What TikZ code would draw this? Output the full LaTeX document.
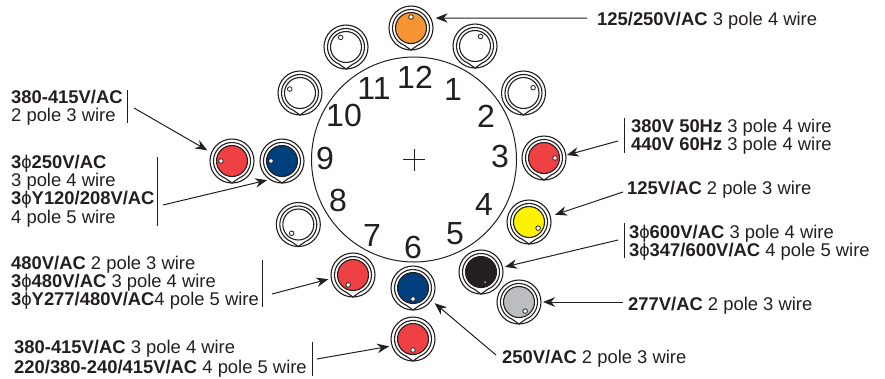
\documentclass[tikz,border=0pt]{standalone}
\usepackage{fontspec}
\setmainfont{Liberation Sans}
\usetikzlibrary{arrows.meta, positioning}
\definecolor{inkblack}{HTML}{231F20}
\definecolor{plugred}{HTML}{EF4044}
\definecolor{plugblue}{HTML}{003F7D}
\definecolor{plugorange}{HTML}{F79433}
\definecolor{plugyellow}{HTML}{FFF200}
\definecolor{pluggrey}{HTML}{BBBDC0}
\newcommand{\tph}{\textmd{ϕ}}

\begin{document}
\begin{tikzpicture}[
    x=1pt, y=-1pt,
    socket/.style={circle, draw=inkblack, line width=1.1pt, minimum size=44pt, inner sep=0pt, outer sep=0pt},
    hour/.style={text=inkblack, inner sep=0pt, font=\fontsize{32}{32}\selectfont},
    rating/.style={anchor=north west, align=left, inner sep=0pt, text=inkblack, font=\fontsize{18.4}{18.2}\selectfont},
    arrow/.style={-{Stealth[length=12pt, width=9.5pt]}, draw=inkblack, line width=1pt, shorten >=3pt},
    bar/.style={draw=inkblack, line width=1pt}
]

\useasboundingbox (0,0) rectangle (885,378);

% Dial
\node[circle, draw=inkblack, line width=1pt, minimum size=205pt, inner sep=0pt] (dial) at (414,159.5) {};
\node[inner sep=0pt] (centre) at (dial.center) {};
\draw[inkblack, line width=0.7pt] ([xshift=-11pt]centre.center) -- ([xshift=11pt]centre.center)
    ([yshift=-11pt]centre.center) -- ([yshift=11pt]centre.center);

% Hours
\foreach \hh/\xx/\yy in {12/415/77, 1/453/89, 2/486/116, 3/500/156, 4/484/204, 5/455/234,
                         6/413/247, 7/372/235, 8/338/200, 9/325/158, 10/344/115, 11/374/88} {
    \node[hour] (hour\hh) at (\xx,\yy) {\hh};
}

% Sockets
\foreach \sk/\xx/\yy/\col/\ang/\dotr in {
    sockA/411/28/plugorange/90/2.3, sockB/475/46/white/60/2.3, sockC/523.5/93/white/29/2.3,
    sockD/544/158/plugred/0/2.3, sockE/529/222/plugyellow/326/2.3, sockF/519/302/pluggrey/304/2.3,
    sockG/481/272/inkblack/292/1.6, sockH/413/288/plugblue/270/2.3, sockI/413/339/plugred/270/2.3,
    sockJ/353/275/plugred/244/2.3, sockK/298.3/224.5/white/233/2.3, sockL/282/161/plugblue/180/2.3,
    sockM/232/161/plugred/180/2.3, sockN/300/93/white/159/2.3, sockO/346/47/white/119/2.3} {
    \node[socket] (\sk) at (\xx,\yy) {};
    \draw[inkblack, line width=1.1pt] ([shift={(-68:18.5pt)}]\sk.center)
        arc[start angle=-68, end angle=248, radius=18.5pt]
        -- (\sk.south) -- cycle;
    \node[circle, draw=inkblack, line width=1.1pt, fill=\col, minimum size=31pt, inner sep=0pt] (\sk fill) at (\sk.center) {};
    \node[circle, draw=inkblack, line width=0.8pt, fill=white, minimum size=2*\dotr pt, inner sep=0pt]
        (\sk dot) at ([shift={(\ang:11pt)}]\sk.center) {};
}

% Ratings
\node[rating] (topr) at (597,12) {\textbf{125/250V/AC} 3 pole 4 wire};
\node[rating] (leftA) at (11,90) {\textbf{380-415V/AC}\\2 pole 3 wire};
\node[rating] (leftB) at (11,155) {\textbf{3\tph250V/AC}\\3 pole 4 wire\\\textbf{3\tph Y120/208V/AC}\\4 pole 5 wire};
\node[rating] (leftC) at (11,256) {\textbf{480V/AC} 2 pole 3 wire\\\textbf{3\tph480V/AC} 3 pole 4 wire\\\textbf{3\tph Y277/480V/AC}4 pole 5 wire};
\node[rating, font=\fontsize{18.4}{20}\selectfont] (leftD) at (14,340) {\textbf{380-415V/AC} 3 pole 4 wire\\\textbf{220/380-240/415V/AC} 4 pole 5 wire};
\node[rating] (rightA) at (631,119) {\textbf{380V 50Hz} 3 pole 4 wire\\\textbf{440V 60Hz} 3 pole 4 wire};
\node[rating] (rightB) at (627,181) {\textbf{125V/AC} 2 pole 3 wire};
\node[rating] (rightC) at (629,225) {\textbf{3\tph600V/AC} 3 pole 4 wire\\\textbf{3\tph347/600V/AC} 4 pole 5 wire};
\node[rating] (rightD) at (628,297) {\textbf{277V/AC} 2 pole 3 wire};
\node[rating] (botr) at (502,350) {\textbf{250V/AC} 2 pole 3 wire};

% Bars
\draw[bar] (127,90) -- (127,123);
\draw[bar] (157,157) -- (157,226);
\draw[bar] (262.6,260) -- (262.6,307);
\draw[bar] (312,342) -- (312,376);
\draw[bar] (624,118) -- (624,153);
\draw[bar] (624,223) -- (624,258);

% Arrow tails
\coordinate (tailA) at (587,18);
\coordinate (tailB) at (618,141);
\coordinate (tailC) at (623,192);
\coordinate (tailD) at (618,240);
\coordinate (tailE) at (623,302);
\coordinate (tailF) at (496,355);
\coordinate (tailG) at (317,359);
\coordinate (tailH) at (272,294);
\coordinate (tailI) at (163,205);
\coordinate (tailJ) at (134,108);

% Arrows
\draw[arrow, shorten >=5pt] (tailA) -- (sockA.27);
\draw[arrow, shorten >=1pt] (tailB) -- (sockD.7);
\draw[arrow, shorten >=5pt] (tailC) -- (sockE.15);
\draw[arrow, shorten >=2.5pt] (tailD) -- (sockG.12);
\draw[arrow, shorten >=2pt] (tailE) -- (sockF.0);
\draw[arrow, shorten >=4.5pt] (tailF) -- (sockH.-34);
\draw[arrow] (tailG) -- (sockI.198);
\draw[arrow] (tailH) -- (sockJ.189);
\draw[arrow] (tailI) -- (sockL.237);
\draw[arrow, shorten >=5pt] (tailJ) -- (sockM.158);

\end{tikzpicture}
\end{document}
